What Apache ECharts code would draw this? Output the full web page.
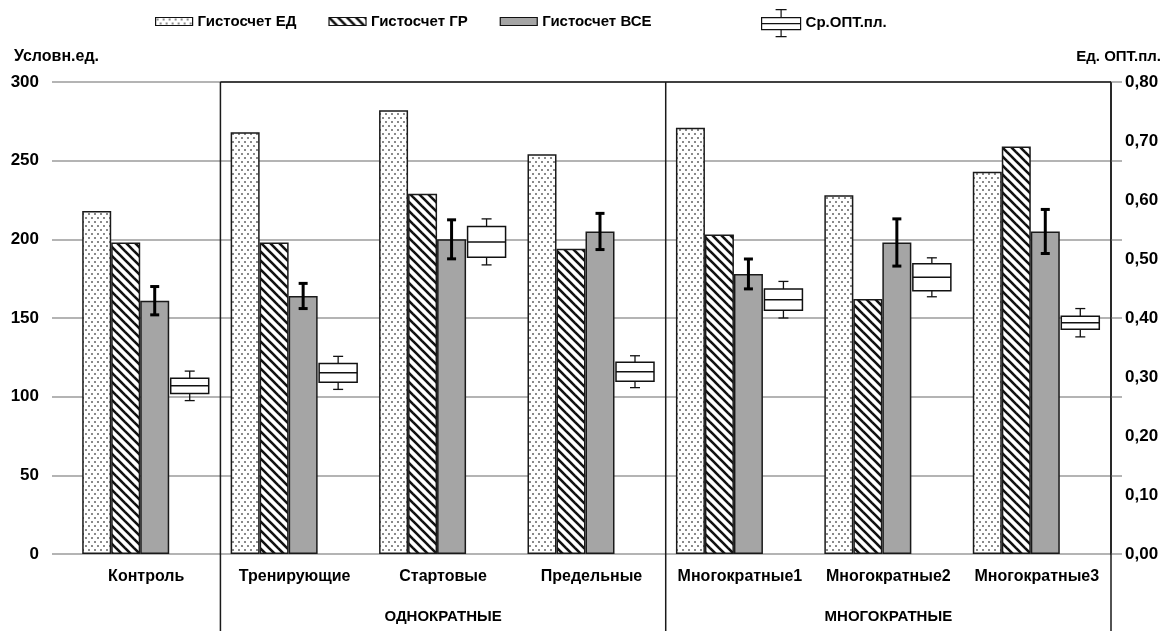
<!DOCTYPE html>
<html>
<head>
<meta charset="utf-8">
<script src="https://cdn.jsdelivr.net/npm/echarts@6/dist/echarts.min.js"></script>
<style>
  html, body { margin: 0; padding: 0; background: #fff; }
  #chart { width: 1167px; height: 631px; }
</style>
</head>
<body>
<div id="chart"></div>
<script>
// Categories and their two-level grouping
const categories = ['Контроль', 'Тренирующие', 'Стартовые', 'Предельные', 'Многократные1', 'Многократные2', 'Многократные3'];
const groupNames = ['ОДНОКРАТНЫЕ', 'МНОГОКРАТНЫЕ'];
const groupFirst = [1, 4];
const groupLast = [3, 6];

// Histocount series (left axis, conventional units)
const edValues = [218, 268, 282, 254, 271, 228, 243];
const grValues = [198, 198, 229, 194, 203, 162, 259];
const allValues = [161, 164, 200, 205, 178, 198, 205];
const allErrors = [9, 8, 12.4, 11.5, 9.5, 15, 14];

// Mean optical density (right axis): mean, box half-height, whisker half-height
const optMean = [0.285, 0.307, 0.529, 0.309, 0.431, 0.469, 0.392];
const optBox = [0.013, 0.016, 0.026, 0.016, 0.018, 0.023, 0.011];
const optWhisker = [0.025, 0.028, 0.039, 0.027, 0.031, 0.033, 0.024];

// Axis ranges
const leftAxisMax = 300, leftAxisStep = 50;
const rightAxisMax = 0.8, rightAxisStep = 0.1;

const FONT = '"Liberation Sans", Arial, sans-serif';
const GRID_GRAY = '#b4b4b4';
const BAR_W = 29, SLOT_W = 41, BOX_W = 38;
// horizontal offsets from the category centre (4 slots of 29,29,29,41 px)
const ALL_OFFSET = -64 + 2 * BAR_W + BAR_W / 2;
const BOX_OFFSET = -64 + 3 * BAR_W + SLOT_W / 2;

function dotPattern() {
  const c = document.createElement('canvas');
  c.width = 6; c.height = 8;
  const g = c.getContext('2d');
  g.fillStyle = '#fff'; g.fillRect(0, 0, 6, 8);
  g.fillStyle = '#8a8a8a';
  g.fillRect(1, 1, 2, 2);
  g.fillRect(4, 5, 2, 2);
  return c;
}
function hatchPattern() {
  const s = 9;
  const c = document.createElement('canvas');
  c.width = s; c.height = s;
  const g = c.getContext('2d');
  g.fillStyle = '#fff'; g.fillRect(0, 0, s, s);
  g.strokeStyle = '#111'; g.lineWidth = 2.6;
  for (let k = -2; k <= 2; k++) {
    g.beginPath();
    g.moveTo(k * s - s, -s);
    g.lineTo(k * s + 2 * s, 2 * s);
    g.stroke();
  }
  return c;
}

const chart = echarts.init(document.getElementById('chart'), null, { renderer: 'canvas' });

function renderError(params, api) {
  const i = api.value(0), v = api.value(1), e = api.value(2);
  const x = api.coord([i, v])[0] + ALL_OFFSET;
  const yTop = api.coord([i, v + e])[1];
  const yBot = api.coord([i, v - e])[1];
  const st = { stroke: '#000', lineWidth: 3 };
  return {
    type: 'group',
    children: [
      { type: 'line', shape: { x1: x, y1: yTop, x2: x, y2: yBot }, style: st },
      { type: 'line', shape: { x1: x - 4.5, y1: yTop, x2: x + 4.5, y2: yTop }, style: st },
      { type: 'line', shape: { x1: x - 4.5, y1: yBot, x2: x + 4.5, y2: yBot }, style: st }
    ]
  };
}

function renderBox(params, api) {
  const i = api.value(0), m = api.value(1), b = api.value(2), w = api.value(3);
  const x = api.coord([i, m])[0] + BOX_OFFSET;
  const yM = api.coord([i, m])[1];
  const yB1 = api.coord([i, m + b])[1];
  const yB2 = api.coord([i, m - b])[1];
  const yW1 = api.coord([i, m + w])[1];
  const yW2 = api.coord([i, m - w])[1];
  const thin = { stroke: '#111', lineWidth: 1.3 };
  return {
    type: 'group',
    children: [
      { type: 'line', shape: { x1: x, y1: yW1, x2: x, y2: yB1 }, style: thin },
      { type: 'line', shape: { x1: x, y1: yB2, x2: x, y2: yW2 }, style: thin },
      { type: 'line', shape: { x1: x - 5, y1: yW1, x2: x + 5, y2: yW1 }, style: thin },
      { type: 'line', shape: { x1: x - 5, y1: yW2, x2: x + 5, y2: yW2 }, style: thin },
      { type: 'rect', shape: { x: x - BOX_W / 2, y: yB1, width: BOX_W, height: yB2 - yB1 },
        style: { fill: '#fff', stroke: '#111', lineWidth: 1.5 } },
      { type: 'line', shape: { x1: x - BOX_W / 2, y1: yM, x2: x + BOX_W / 2, y2: yM }, style: { stroke: '#111', lineWidth: 1.5 } }
    ]
  };
}

const labelStyle = { color: '#000', fontFamily: FONT, fontWeight: 'bold' };
const barBorder = { borderColor: '#1a1a1a', borderWidth: 1.5 };

chart.setOption({
  animation: false,
  backgroundColor: '#fff',
  grid: { left: 72, right: 56, top: 82, bottom: 77, containLabel: false },
  legend: [
    {
      data: [
        { name: 'Гистосчет ЕД', icon: 'rect' },
        { name: 'Гистосчет ГР', icon: 'rect' },
        { name: 'Гистосчет ВСЕ', icon: 'rect' }
      ],
      left: 155, top: 14, padding: 0,
      itemWidth: 37, itemHeight: 8, itemGap: 32,
      itemStyle: { borderColor: '#111', borderWidth: 1.2 },
      textStyle: Object.assign({ fontSize: 15 }, labelStyle),
      selectedMode: false
    },
    {
      data: [{
        name: 'Ср.ОПТ.пл.',
        icon: 'path://M0,8H39V20H0Z M0,14H39 M19.5,8V0 M14,0H25 M19.5,20V27 M14,27H25',
        itemStyle: { color: '#fff', borderColor: '#111', borderWidth: 1.2 }
      }],
      left: 761, top: 9, padding: 0,
      itemWidth: 39, itemHeight: 27,
      textStyle: Object.assign({ fontSize: 15 }, labelStyle),
      selectedMode: false
    }
  ],
  xAxis: {
    type: 'category',
    data: categories,
    axisLine: { show: false },
    axisTick: { show: false },
    axisLabel: Object.assign({ fontSize: 16, interval: 0, margin: 15 }, labelStyle),
    splitLine: { show: false }
  },
  yAxis: [
    {
      type: 'value', position: 'left', min: 0, max: leftAxisMax, interval: leftAxisStep,
      axisLine: { show: false },
      axisTick: { show: true, length: 20, lineStyle: { color: GRID_GRAY, width: 2 } },
      axisLabel: Object.assign({ fontSize: 17, margin: 33 }, labelStyle),
      splitLine: { show: true, lineStyle: { color: GRID_GRAY, width: 2 } }
    },
    {
      type: 'value', position: 'right', min: 0, max: rightAxisMax, interval: rightAxisStep,
      axisLine: { show: true, onZero: false, lineStyle: { color: '#222', width: 1.5 } },
      axisTick: { show: false },
      axisLabel: Object.assign({ fontSize: 17, margin: 14,
        formatter: v => v.toFixed(2).replace('.', ',') }, labelStyle),
      splitLine: { show: false }
    },
    {
      type: 'value', position: 'right', min: 0, max: leftAxisMax, interval: leftAxisStep,
      axisLine: { show: false, onZero: false },
      axisTick: { show: true, length: 11, lineStyle: { color: GRID_GRAY, width: 2 } },
      axisLabel: { show: false },
      splitLine: { show: false }
    }
  ],
  series: [
    {
      name: 'Гистосчет ЕД', type: 'bar', barWidth: BAR_W, barGap: '0%',
      itemStyle: Object.assign({ color: { image: dotPattern(), repeat: 'repeat' } }, barBorder),
      data: edValues, z: 2
    },
    {
      name: 'Гистосчет ГР', type: 'bar', barWidth: BAR_W, barGap: '0%',
      itemStyle: Object.assign({ color: { image: hatchPattern(), repeat: 'repeat' } }, barBorder),
      data: grValues, z: 2
    },
    {
      name: 'Гистосчет ВСЕ', type: 'bar', barWidth: BAR_W, barGap: '0%',
      itemStyle: Object.assign({ color: '#a5a5a5' }, barBorder),
      data: allValues, z: 2
    },
    {
      // empty slot that keeps room for the optical density boxes
      name: 'slot', type: 'bar', barWidth: SLOT_W, barGap: '0%', silent: true,
      data: categories.map(() => null)
    },
    {
      name: 'Гистосчет ВСЕ ±', type: 'custom', renderItem: renderError, z: 5,
      encode: { x: 0, y: 1 },
      data: allValues.map((v, i) => [i, v, allErrors[i]])
    },
    {
      name: 'Ср.ОПТ.пл.', type: 'custom', yAxisIndex: 1, renderItem: renderBox, z: 5,
      itemStyle: { color: '#fff', borderColor: '#111' },
      encode: { x: 0, y: 1 },
      data: optMean.map((m, i) => [i, m, optBox[i], optWhisker[i]])
    }
  ]
});

// Group frames, group captions and axis titles
const centers = categories.map((c, i) => chart.convertToPixel({ xAxisIndex: 0 }, i));
const band = centers[1] - centers[0];
const yTop = chart.convertToPixel({ yAxisIndex: 0 }, leftAxisMax);
const xRight = centers[centers.length - 1] + band / 2;
const frame = { stroke: '#1a1a1a', lineWidth: 1.5 };
const graphics = [];
const seps = [centers[groupFirst[0]] - band / 2, centers[groupFirst[1]] - band / 2];
seps.forEach(x => graphics.push({ type: 'line', shape: { x1: x, y1: yTop, x2: x, y2: 631 }, style: frame, z: 10 }));
graphics.push({ type: 'line', shape: { x1: seps[0], y1: yTop, x2: xRight, y2: yTop }, style: frame, z: 10 });
graphics.push({ type: 'line', shape: { x1: xRight, y1: yTop, x2: xRight, y2: 631 }, style: frame, z: 10 });
groupNames.forEach((name, g) => {
  const x = (centers[groupFirst[g]] + centers[groupLast[g]]) / 2;
  graphics.push({ type: 'text', x: x, y: 617, z: 10,
    style: { text: name, fill: '#000', font: 'bold 15px ' + FONT, align: 'center', verticalAlign: 'middle' } });
});
graphics.push({ type: 'text', x: 14, y: 57, z: 10,
  style: { text: 'Условн.ед.', fill: '#000', font: 'bold 16px ' + FONT, align: 'left', verticalAlign: 'middle' } });
graphics.push({ type: 'text', x: 1161, y: 57, z: 10,
  style: { text: 'Ед. ОПТ.пл.', fill: '#000', font: 'bold 15px ' + FONT, align: 'right', verticalAlign: 'middle' } });
chart.setOption({ graphic: graphics });
</script>
</body>
</html>
